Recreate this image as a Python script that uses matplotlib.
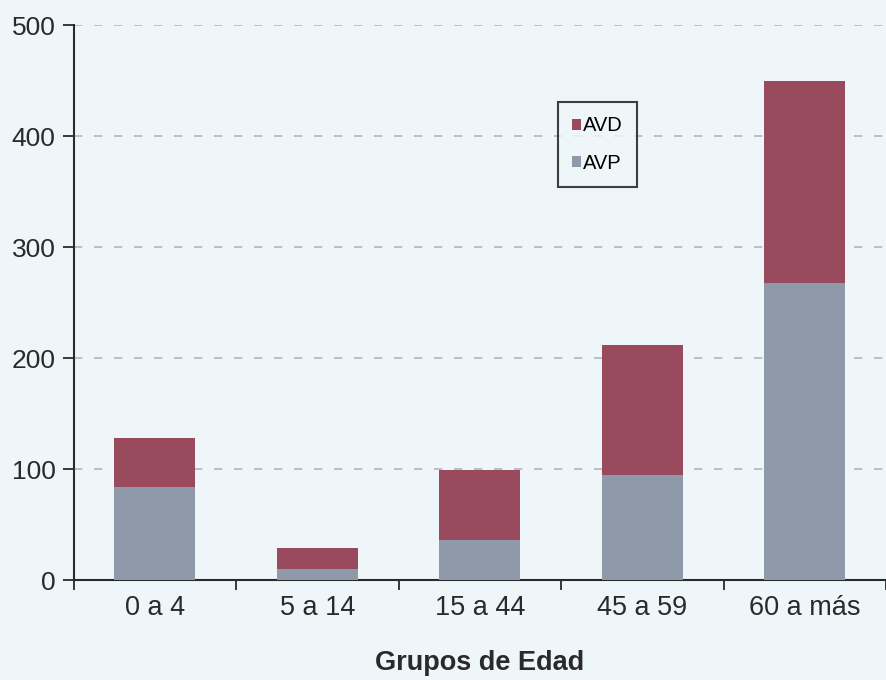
import matplotlib.pyplot as plt
import numpy as np

plt.rcParams["font.family"] = ["Liberation Sans", "DejaVu Sans"]

grupos = ["0 a 4", "5 a 14", "15 a 44", "45 a 59", "60 a más"]
avp = [84, 10, 36, 95, 268]
avd = [44, 19, 63, 117, 182]

bg = "#eef6f9"
col_avd = "#9a4a5d"
col_avp = "#8e9aaa"
ink = "#2a2a2a"

fig = plt.figure(figsize=(8.86, 6.8), dpi=100, facecolor=bg)
ax = fig.add_axes([0.083, 0.147, 0.917, 0.816], facecolor=bg)

x = np.arange(len(grupos))
ax.bar(x, avp, width=0.5, color=col_avp, label="AVP", zorder=3)
ax.bar(x, avd, width=0.5, bottom=avp, color=col_avd, label="AVD", zorder=3)

ax.set_xlim(-0.5, len(grupos) - 0.5)
ax.set_ylim(0, 500)
ax.set_yticks(range(0, 501, 100))
ax.yaxis.grid(True, linestyle=(0, (5, 7)), color="#b0b6ba", linewidth=1.2, zorder=0)

ax.set_xticks(x)
ax.set_xticklabels(grupos, fontsize=19.5)
ax.set_xticks(np.arange(-0.5, len(grupos), 1), minor=True)
ax.tick_params(axis="x", which="major", length=0, pad=11, labelcolor=ink)
ax.tick_params(axis="x", which="minor", length=7, width=1.3, direction="out", color=ink)
ax.tick_params(axis="y", labelsize=19, length=8, width=1.3, pad=5, color=ink, labelcolor=ink)

for s in ["top", "right"]:
    ax.spines[s].set_visible(False)
for s in ["left", "bottom"]:
    ax.spines[s].set_linewidth(1.5)
    ax.spines[s].set_color(ink)

ax.set_xlabel("Grupos de Edad", fontsize=19.5, fontweight="bold", color=ink, labelpad=21)

h, l = ax.get_legend_handles_labels()
leg = ax.legend(h[::-1], l[::-1], loc="center", bbox_to_anchor=(0.645, 0.785),
                fontsize=14.5, frameon=True, fancybox=False, edgecolor="#111111",
                facecolor=bg, handlelength=0.45, handleheight=0.45, handletextpad=0.1,
                labelspacing=0.9, borderpad=0.7, borderaxespad=0)
leg.get_frame().set_linewidth(1.5)

fig.savefig("out.png", dpi=100, facecolor=bg)
